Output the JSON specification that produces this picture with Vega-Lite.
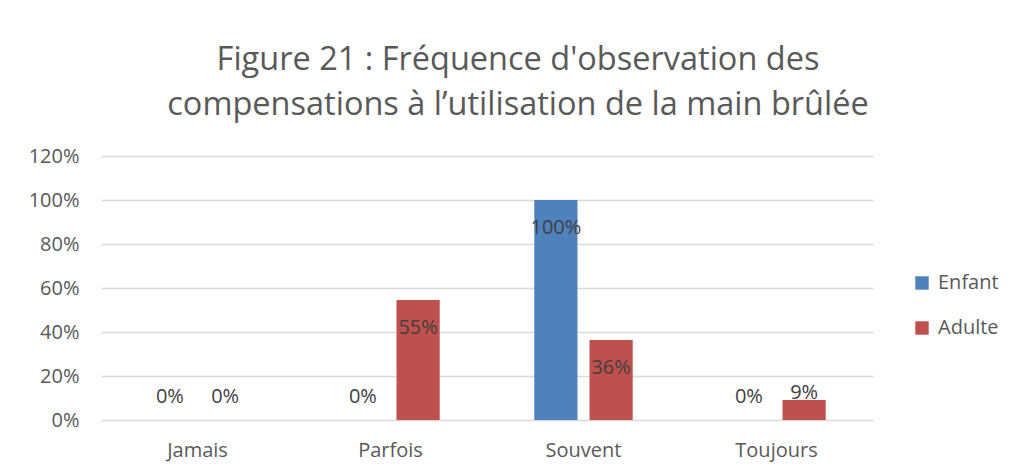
{
  "$schema": "https://vega.github.io/schema/vega-lite/v6.json",
  "width": 772,
  "height": 264,
  "autosize": "none",
  "padding": {"left": 101, "top": 156, "right": 140, "bottom": 51},
  "background": "white",
  "config": {"view": {"stroke": null}, "font": "Open Sans"},
  "title": {
    "text": ["Figure 21 : Fréquence d'observation des", "compensations à l’utilisation de la main brûlée"],
    "font": "Open Sans", "fontSize": 32.5, "fontWeight": "normal", "color": "#595959",
    "anchor": "middle", "dx": 31, "offset": 25, "lineHeight": 45
  },
  "data": {"values": [
    {"cat": "Jamais", "series": "Enfant", "v": 0},
    {"cat": "Jamais", "series": "Adulte", "v": 0},
    {"cat": "Parfois", "series": "Enfant", "v": 0},
    {"cat": "Parfois", "series": "Adulte", "v": 0.5455},
    {"cat": "Souvent", "series": "Enfant", "v": 1},
    {"cat": "Souvent", "series": "Adulte", "v": 0.3636},
    {"cat": "Toujours", "series": "Enfant", "v": 0},
    {"cat": "Toujours", "series": "Adulte", "v": 0.0909}
  ]},
  "encoding": {
    "x": {"field": "cat", "type": "nominal", "sort": ["Jamais", "Parfois", "Souvent", "Toujours"],
      "scale": {"paddingInner": 0.49, "paddingOuter": 0.245},
      "axis": {"title": null, "labelAngle": 0, "ticks": false, "domain": false, "labelFontSize": 20, "labelColor": "#595959", "labelPadding": 20, "labelFont": "Open Sans"}},
    "xOffset": {"field": "series", "type": "nominal", "sort": ["Enfant", "Adulte"], "scale": {"paddingInner": 0.218, "paddingOuter": 0}}
  },
  "layer": [
    {
      "mark": {"type": "bar"},
      "encoding": {
        "y": {"field": "v", "type": "quantitative", "scale": {"domain": [0, 1.2], "nice": false},
          "axis": {"title": null, "values": [0, 0.2, 0.4, 0.6, 0.8, 1, 1.2], "format": ".0%", "ticks": false, "domain": false,
            "gridColor": "#D9D9D9", "gridWidth": 1.5, "labelFontSize": 20, "labelColor": "#595959", "labelPadding": 22, "labelFont": "Open Sans"}},
        "color": {"field": "series", "type": "nominal", "sort": ["Enfant", "Adulte"],
          "scale": {"domain": ["Enfant", "Adulte"], "range": ["#4F81BD", "#C0504D"]},
          "legend": {"title": null, "orient": "none", "legendX": 811, "legendY": 117, "symbolType": "square", "symbolSize": 180,
            "symbolStrokeWidth": 0, "labelFontSize": 20, "labelColor": "#595959", "labelFont": "Open Sans", "rowPadding": 25, "labelOffset": 6}}
      }
    },
    {
      "transform": [{"calculate": "datum.v >= 0.3 ? datum.v - 0.127 : datum.v * 0.2 + 0.105", "as": "ly"}],
      "mark": {"type": "text", "fontSize": 20, "color": "#404040", "baseline": "middle", "font": "Open Sans"},
      "encoding": {
        "y": {"field": "ly", "type": "quantitative"},
        "text": {"field": "v", "type": "quantitative", "format": ".0%"}
      }
    }
  ]
}
